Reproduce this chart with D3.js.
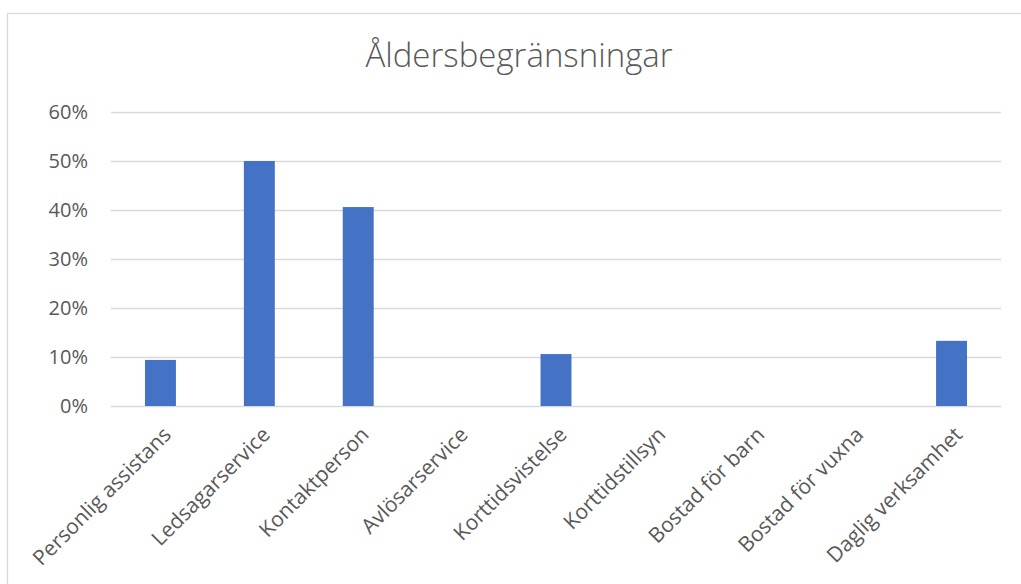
<!DOCTYPE html>
<html>
<head>
<meta charset="utf-8">
<script src="https://cdn.jsdelivr.net/npm/d3@7"></script>
<style>
  body { margin: 0; background: #fff; }
  text { font-family: "Open Sans", "Noto Sans", sans-serif; fill: #595959; }
</style>
</head>
<body>
<div id="chart"></div>
<script>
const title = "Åldersbegränsningar";
const categories = ["Personlig assistans", "Ledsagarservice", "Kontaktperson", "Avlösarservice",
  "Korttidsvistelse", "Korttidstillsyn", "Bostad för barn", "Bostad för vuxna", "Daglig verksamhet"];
const values = [0.094, 0.50, 0.406, 0, 0.106, 0, 0, 0, 0.133];
const yTicks = [0, 0.1, 0.2, 0.3, 0.4, 0.5, 0.6];

const width = 1021, height = 584;
const plot = {left: 111, right: 1001, top: 112, bottom: 406};

const svg = d3.select('#chart')
  .append('svg')
  .attr('width', width)
  .attr('height', height);

// chart area frame
svg.append('rect')
  .attr('x', 7.5).attr('y', 13.5)
  .attr('width', 1030).attr('height', 600)
  .style('fill', '#fff')
  .style('stroke', '#d9d9d9')
  .style('stroke-width', 1.3);

const x = d3.scaleBand()
  .domain(categories)
  .range([plot.left, plot.right])
  .paddingInner(0.687)
  .paddingOuter(0.3435);

const y = d3.scaleLinear()
  .domain([0, 0.6])
  .range([plot.bottom, plot.top]);

// gridlines + y labels
const yAxis = svg.append('g')
  .attr('transform', `translate(${plot.left},0)`)
  .call(d3.axisLeft(y)
    .tickValues(yTicks)
    .tickFormat(d3.format('.0%'))
    .tickSize(-(plot.right - plot.left))
    .tickPadding(23));
yAxis.select('.domain').remove();
yAxis.selectAll('.tick line')
  .style('stroke', '#d9d9d9')
  .style('stroke-width', 1.3);
yAxis.selectAll('.tick text')
  .style('font-size', '20px')
  .style('fill', '#595959');

// bars
svg.append('g')
  .selectAll('rect')
  .data(values)
  .join('rect')
  .attr('x', (d, i) => x(categories[i]))
  .attr('y', d => y(d))
  .attr('width', x.bandwidth())
  .attr('height', d => y(0) - y(d))
  .style('fill', '#4472c4');

// category labels
svg.append('g')
  .selectAll('text')
  .data(categories)
  .join('text')
  .attr('transform', d => `translate(${x(d) + x.bandwidth() / 2 + 12},${plot.bottom + 30}) rotate(-45)`)
  .attr('text-anchor', 'end')
  .style('font-size', '21px')
  .text(d => d);

// title
svg.append('text')
  .attr('x', 519)
  .attr('y', 67)
  .attr('text-anchor', 'middle')
  .style('font-size', '33px')
  .style('font-weight', 300)
  .text(title);
</script>
</body>
</html>
